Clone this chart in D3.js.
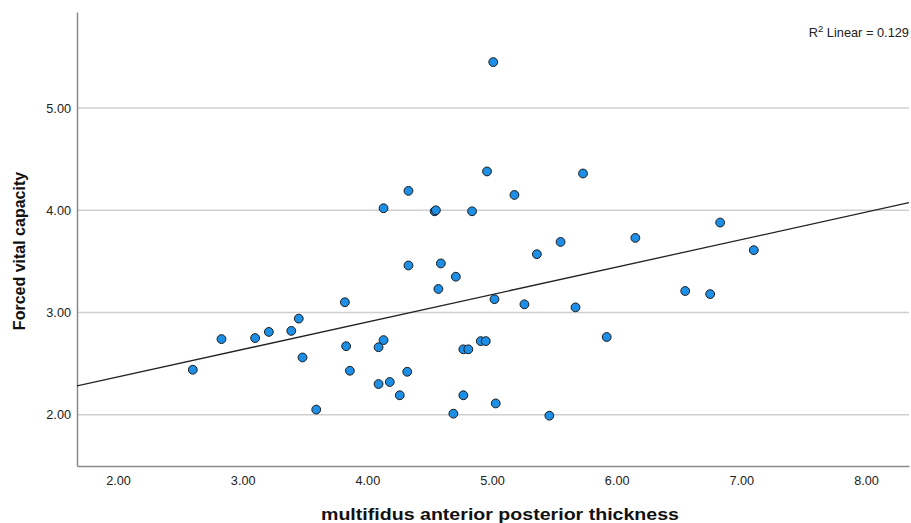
<!DOCTYPE html>
<html>
<head>
<meta charset="utf-8">
<script src="https://cdn.jsdelivr.net/npm/d3@7"></script>
<style>
  body { margin: 0; background: #fff; }
  svg text { font-family: "Liberation Sans", Arial, sans-serif; }
</style>
</head>
<body>
<svg id="chart" width="911" height="523"></svg>
<script>
// values
var thickness = [2.60, 2.83, 3.10, 3.21, 3.39, 3.45, 3.48, 3.59, 3.82, 3.83,
    3.86, 4.09, 4.09, 4.13, 4.13, 4.18, 4.26, 4.33, 4.33, 4.32,
    4.54, 4.55, 4.57, 4.59, 4.71, 4.69, 4.77, 4.81, 4.77, 4.84,
    4.91, 4.95, 4.96, 5.01, 5.02, 5.03, 5.18, 5.26, 5.36, 5.46,
    5.55, 5.67, 5.73, 5.92, 6.15, 6.55, 6.75, 6.83, 7.10];
var fvc = [2.44, 2.74, 2.75, 2.81, 2.82, 2.94, 2.56, 2.05, 3.10, 2.67,
    2.43, 2.66, 2.30, 4.02, 2.73, 2.32, 2.19, 4.19, 3.46, 2.42,
    3.99, 4.00, 3.23, 3.48, 3.35, 2.01, 2.64, 2.64, 2.19, 3.99,
    2.72, 2.72, 4.38, 5.45, 3.13, 2.11, 4.15, 3.08, 3.57, 1.99,
    3.69, 3.05, 4.36, 2.76, 3.73, 3.21, 3.18, 3.88, 3.61];
var xTicks = [2, 3, 4, 5, 6, 7, 8];
var yTicks = [2, 3, 4, 5];
var fitIntercept = 1.832, fitSlope = 0.2687;
var r2Text = "0.129";

var margin = {top: 12, right: 2, bottom: 57, left: 77},
    width = 911 - margin.left - margin.right,
    height = 523 - margin.top - margin.bottom;

var svg = d3.select("#chart");
var g = svg.append("g").attr("transform", "translate(" + margin.left + "," + margin.top + ")");

var x = d3.scaleLinear().domain([1.671, 8.345]).range([0, width]);
var y = d3.scaleLinear().domain([1.498, 5.94]).range([height, 0]);

// gridlines
g.selectAll("line.grid").data(yTicks).join("line")
    .attr("class", "grid")
    .attr("x1", 0).attr("x2", width)
    .attr("y1", d => y(d)).attr("y2", d => y(d))
    .attr("stroke", "#cfcfcf").attr("stroke-width", 1.5);

// axes, no tick marks
var xAxis = g.append("g").attr("transform", "translate(0," + height + ")")
    .call(d3.axisBottom(x).tickValues(xTicks).tickFormat(d3.format(".2f")).tickSize(0).tickPadding(10));
var yAxis = g.append("g")
    .call(d3.axisLeft(y).tickValues(yTicks).tickFormat(d3.format(".2f")).tickSize(0).tickPadding(6));
[xAxis, yAxis].forEach(a => {
    a.select(".domain").attr("stroke", "#8a8a8a").attr("stroke-width", 1.5);
    a.selectAll("text").attr("fill", "#222").attr("font-size", 12.7)
        .attr("font-family", "Liberation Sans, Arial, sans-serif");
});

// fit line
g.append("defs").append("clipPath").attr("id", "clip")
    .append("rect").attr("width", width).attr("height", height);
var xd = x.domain();
g.append("line")
    .attr("clip-path", "url(#clip)")
    .attr("x1", x(xd[0])).attr("y1", y(fitIntercept + fitSlope * xd[0]))
    .attr("x2", x(xd[1])).attr("y2", y(fitIntercept + fitSlope * xd[1]))
    .attr("stroke", "#222").attr("stroke-width", 1.3);

// points
g.selectAll("circle").data(thickness).join("circle")
    .attr("cx", d => x(d))
    .attr("cy", (d, i) => y(fvc[i]))
    .attr("r", 4.4)
    .attr("fill", "#1e8fe6")
    .attr("stroke", "#1a1a1a")
    .attr("stroke-width", 1);

// r squared label
var r2 = svg.append("text").attr("x", 909).attr("y", 37)
    .attr("text-anchor", "end").attr("font-size", 12.8).attr("fill", "#222");
r2.append("tspan").text("R");
r2.append("tspan").attr("dy", -5).attr("font-size", 9.5).text("2");
r2.append("tspan").attr("dy", 5).text(" Linear = " + r2Text);

// axis titles
svg.append("text")
    .attr("x", 500).attr("y", 520)
    .attr("text-anchor", "middle").attr("font-size", 16.5).attr("font-weight", "bold")
    .attr("textLength", 358).attr("lengthAdjust", "spacingAndGlyphs")
    .attr("fill", "#111")
    .text("multifidus anterior posterior thickness");
svg.append("text")
    .attr("transform", "translate(25,251) rotate(-90)")
    .attr("text-anchor", "middle").attr("font-size", 16).attr("font-weight", "bold")
    .attr("fill", "#111")
    .text("Forced vital capacity");
</script>
</body>
</html>
